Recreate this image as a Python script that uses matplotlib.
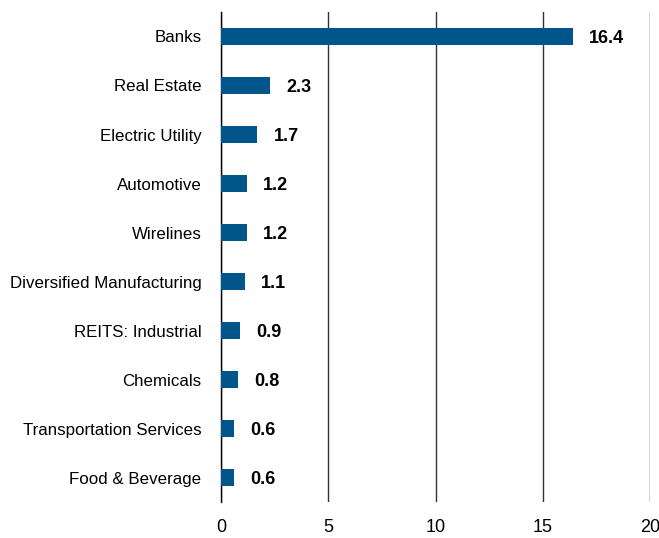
import matplotlib.pyplot as plt

categories = ['Banks', 'Real Estate', 'Electric Utility', 'Automotive', 'Wirelines',
              'Diversified Manufacturing', 'REITS: Industrial', 'Chemicals',
              'Transportation Services', 'Food & Beverage']
values = [16.4, 2.3, 1.7, 1.2, 1.2, 1.1, 0.9, 0.8, 0.6, 0.6]

plt.rcParams['font.family'] = ['Liberation Sans Narrow', 'Liberation Sans', 'DejaVu Sans']

fig = plt.figure(figsize=(6.59, 5.38), dpi=100)
ax = fig.add_axes([0.3354, 0.0669, 0.6509, 0.9108])

pos = list(range(len(categories)))
ax.barh(pos, values, height=0.35, color='#00558a', zorder=3)
for p, v in zip(pos, values):
    ax.text(v + 0.75, p + 0.04, f'{v:.1f}', va='center', ha='left', fontsize=13,
            fontweight='bold', color='black')

ax.set_yticks(pos)
ax.set_yticklabels(categories, fontsize=12.2)
ax.set_ylim(9.5, -0.5)
ax.set_xlim(0, 20)
ax.set_xticks([0, 5, 10, 15, 20])
ax.tick_params(axis='both', length=0)
ax.tick_params(axis='x', labelsize=13, pad=12)
ax.tick_params(axis='y', pad=14)
for s in ['top', 'right', 'bottom']:
    ax.spines[s].set_visible(False)
ax.spines['left'].set_color('black')
ax.spines['left'].set_linewidth(1)
ax.xaxis.grid(True, color='#333333', linewidth=1, zorder=0)
ax.set_axisbelow(True)

fig.savefig('out.png', dpi=100)
